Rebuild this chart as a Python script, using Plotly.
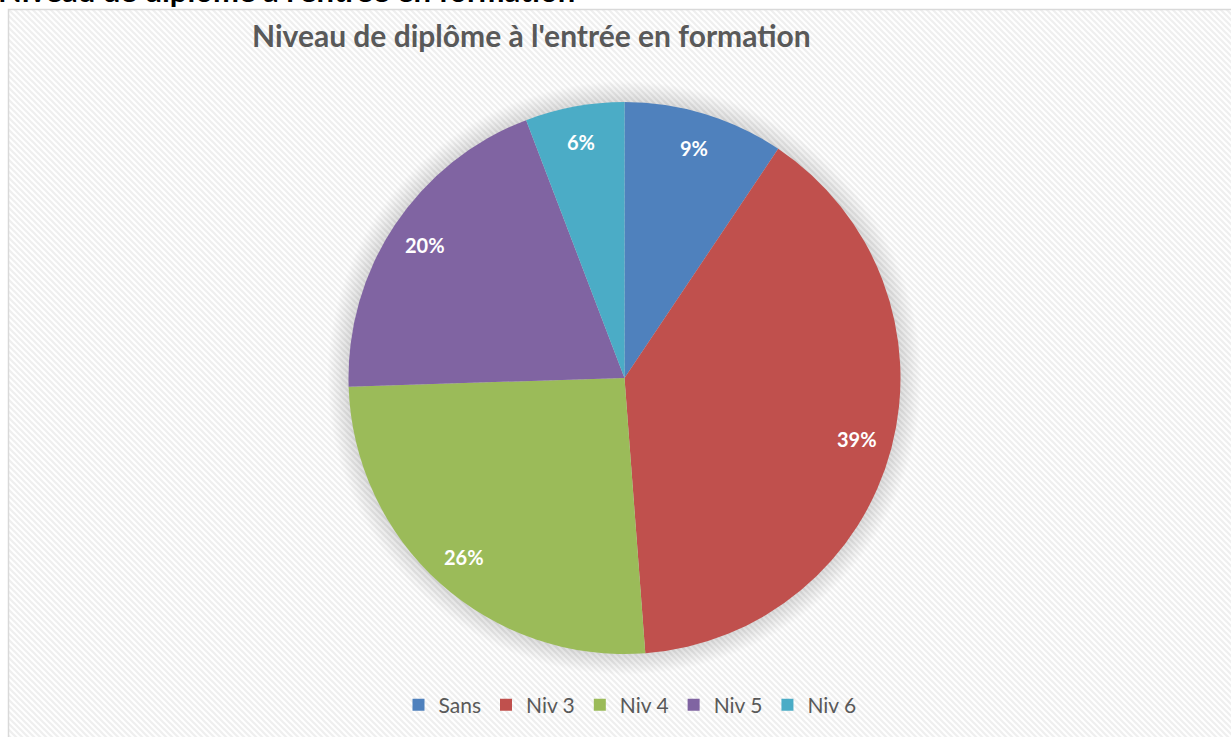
import base64
import math
import plotly.graph_objects as go

# ---- data ----
categories = ["Sans", "Niv 3", "Niv 4", "Niv 5", "Niv 6"]
values = [9.4, 39.4, 25.7, 19.7, 5.8]
colors = ["#4F81BD", "#C0504D", "#9BBB59", "#8064A2", "#4BACC6"]
title_text = "Niveau de diplôme à l'entrée en formation"

W, H = 1231, 737
FONT = "Lato"

# pie geometry (pixels)
cx, cy, R = 624.5, 378, 276
dom_x = [(cx - R) / W, (cx + R) / W]
dom_y = [(H - cy - R) / H, (H - cy + R) / H]

fig = go.Figure()

# soft shadow around the pie
n_layers = 16
for k in range(n_layers, 0, -1):
    rr = R + k * 1.3
    fig.add_trace(go.Pie(
        values=[1], labels=["shadow%d" % k], sort=False,
        marker=dict(colors=["rgba(0,0,0,0.008)"], line=dict(width=0)),
        textinfo="none", hoverinfo="skip", showlegend=False,
        domain=dict(x=[(cx - rr) / W, (cx + rr) / W],
                    y=[(H - cy - rr) / H, (H - cy + rr) / H]),
    ))

fig.add_trace(go.Pie(
    labels=categories, values=values, sort=False, direction="clockwise",
    rotation=0,
    marker=dict(colors=colors, line=dict(width=0)),
    textinfo="none", hoverinfo="label+percent",
    domain=dict(x=dom_x, y=dom_y),
    showlegend=True,
))

# data labels at mid-angle of each slice, computed from the values
total = sum(values)
label_annos = []
acc = 0.0
for v in values:
    ang = math.radians((acc + v / 2) / total * 360)
    acc += v
    px = cx + 0.87 * R * math.sin(ang)
    py = cy - 0.87 * R * math.cos(ang)
    label_annos.append(dict(
        text="<b>%d%%</b>" % round(v / total * 100), xref="paper", yref="paper",
        x=px / W, y=(H - py) / H, xanchor="center", yanchor="middle",
        showarrow=False, font=dict(family=FONT, size=20, color="white")))

# hatched background
bw, bh = W - 8, H - 9
svg = f'''<svg xmlns="http://www.w3.org/2000/svg" width="{bw}" height="{bh}">
<defs><pattern id="p" patternUnits="userSpaceOnUse" width="6" height="6">
<rect width="6" height="6" fill="#ffffff"/>
<path d="M-1,-1 L7,7 M-4,2 L1,7 M2,-4 L7,1" stroke="#efefef" stroke-width="2.2"/>
</pattern></defs>
<rect width="{bw}" height="{bh}" fill="url(#p)"/></svg>'''
src = "data:image/svg+xml;base64," + base64.b64encode(svg.encode()).decode()

fig.update_layout(
    width=W, height=H,
    margin=dict(l=0, r=0, t=0, b=0),
    paper_bgcolor="white",
    images=[dict(source=src, xref="paper", yref="paper",
                 x=8 / W, y=1 - 9 / H, sizex=bw / W, sizey=bh / H,
                 xanchor="left", yanchor="top", sizing="stretch", layer="below")],
    shapes=[dict(type="rect", xref="paper", yref="paper",
                 x0=8.5 / W, x1=1.05, y0=-0.05, y1=1 - 9.5 / H,
                 line=dict(color="#d9d9d9", width=1.5), fillcolor="rgba(0,0,0,0)")],
    annotations=[
        dict(text="<b>" + title_text + "</b>", xref="paper", yref="paper",
             x=531 / W, y=1 - 35 / H, xanchor="center", yanchor="middle",
             showarrow=False, font=dict(family=FONT, size=30, color="#595959")),
        dict(text="<b>" + title_text + "</b>", xref="paper", yref="paper",
             x=-4 / W, y=1, xanchor="left", yanchor="bottom", yshift=-11,
             showarrow=False, font=dict(family=FONT, size=31, color="#000000")),
    ] + label_annos,
    legend=dict(orientation="h", x=630 / W, y=(H - 705) / H,
                xanchor="center", yanchor="middle",
                font=dict(family=FONT, size=21, color="#595959"),
                itemwidth=30, bgcolor="rgba(0,0,0,0)"),
)

fig.write_html("out.html",
               config={"displayModeBar": False},
               post_script="document.body.style.margin='0';"
                           "document.body.style.padding='0';")
